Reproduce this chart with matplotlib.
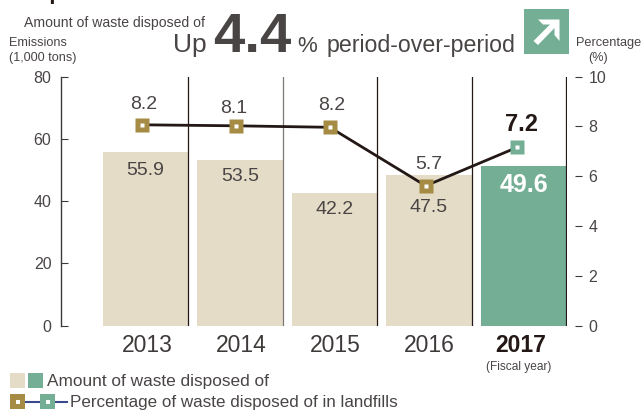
import matplotlib
matplotlib.use("Agg")
import matplotlib.pyplot as plt
from matplotlib.patches import Rectangle, Polygon
from matplotlib.lines import Line2D
import numpy as np

W, H = 641, 412
years = ["2013", "2014", "2015", "2016", "2017"]
bar_heights = [55.6, 53.3, 42.7, 48.2, 51.1]
bar_labels = ["55.9", "53.5", "42.2", "47.5", "49.6"]
pct_heights = [8.06, 8.02, 7.96, 5.61, 7.15]
pct_labels = ["8.2", "8.1", "8.2", "5.7", "7.2"]
left_ticks = [0, 20, 40, 60, 80]
right_ticks = [0, 2, 4, 6, 8, 10]

BEIGE = "#E5DCC8"
GREEN = "#74AF95"
GOLD = "#A58B44"
DARK = "#231815"
TXT = "#4A4545"
NAVY = "#3C4A8C"

plt.rcParams["font.family"] = ["Liberation Sans", "DejaVu Sans"]
fig = plt.figure(figsize=(W / 100, H / 100), dpi=100)
fig.patch.set_facecolor("white")

AX_L, AX_R, AX_T, AX_B = 60.5, 566.5, 76.5, 325.5
ax = fig.add_axes([AX_L / W, 1 - AX_B / H, (AX_R - AX_L) / W, (AX_B - AX_T) / H])
STEP = 94.5
xc0 = 145.5
ax.set_xlim((AX_L - xc0) / STEP, (AX_R - xc0) / STEP)
ax.set_ylim(0, 80)
x = np.arange(len(years))
cols = [BEIGE] * 4 + [GREEN]
ax.bar(x, bar_heights, width=0.905, color=cols, linewidth=0, zorder=1)
for s in ["top", "right", "bottom"]:
    ax.spines[s].set_visible(False)
ax.spines["left"].set_color("#3E3A39")
ax.spines["left"].set_linewidth(1.0)
ax.set_xticks([])
ax.set_yticks(left_ticks)
ax.tick_params(axis="y", direction="in", length=5, width=0.8, color="#3E3A39",
               labelsize=11.5, labelcolor=TXT, pad=6.5)
for i, xx in enumerate(x):
    ax.axvline(xx + 0.453, color="#7d7876" if i == 1 else DARK, lw=0.9, zorder=2)

ax2 = ax.twinx()
ax2.set_ylim(0, 10)
ax2.set_yticks(right_ticks)
for s in ["top", "left", "bottom"]:
    ax2.spines[s].set_visible(False)
ax2.spines["right"].set_position(("outward", 6))
ax2.spines["right"].set_visible(False)
ax2.tick_params(axis="y", direction="out", length=5, width=0.8, color="#3E3A39",
                labelsize=11.5, labelcolor=TXT, pad=5)
ax2.set_xlim(ax.get_xlim())

line_x = x - np.array([0.035, 0.045, 0.05, 0.035, 0.07])
ax2.plot(line_x, pct_heights, color=DARK, lw=2.0, zorder=3, solid_joinstyle="miter")
mcols = [GOLD] * 4 + [GREEN]
for lx, ly, c in zip(line_x, pct_heights, mcols):
    ax2.plot([lx], [ly], marker="s", ms=10.2, mfc=c, mec="none", zorder=4)
    ax2.plot([lx], [ly], marker="s", ms=3.0, mfc="white", mec="none", zorder=5)

px = 72 / 100
bar_off = [(-0.5, -18), (0, -17), (0, -17), (-0.5, -32), (0, -19)]
for i, (lab, off) in enumerate(zip(bar_labels, bar_off)):
    last = i == 4
    ax.annotate(lab, (x[i], bar_heights[i]), xytext=(off[0] * px, off[1] * px),
                textcoords="offset points", ha="center", va="center",
                fontsize=18 if last else 14,
                fontweight="bold" if last else "normal",
                color="white" if last else TXT, zorder=6)
pct_off = [(1.5, -20), (-2, -17), (1.5, -22), (3, -21), (5, -23)]
for i, (lab, off) in enumerate(zip(pct_labels, pct_off)):
    last = i == 4
    ax2.annotate(lab, (line_x[i], pct_heights[i]), xytext=(off[0] * px, -off[1] * px),
                 textcoords="offset points", ha="center", va="center",
                 fontsize=17 if last else 14,
                 fontweight="bold" if last else "normal",
                 color=DARK if last else TXT, zorder=6)


def T(xp, yp, s, **kw):
    kw.setdefault("color", TXT)
    kw.setdefault("va", "baseline")
    fig.text(xp / W, 1 - yp / H, s, **kw)


for i, y in enumerate(years):
    last = i == 4
    T(147.5 + 94 * i - (3 if last else 0), 352.5, y, ha="center", fontsize=16.5,
      fontweight="bold" if last else "normal", color=DARK if last else "#3E3A39")
T(519, 370, "(Fiscal year)", ha="center", fontsize=8.6)

T(15, -1, "Disposal of in landfills", fontsize=16, fontweight="bold", color=DARK)
T(24, 27, "Amount of waste disposed of", fontsize=10.1)
T(173, 52, "Up", fontsize=19)
T(213, 52, "4.4", fontsize=40.5, fontweight="bold", color="#4A4545")
T(297, 52, "%", fontsize=16)
T(327, 52, "period-over-period", fontsize=16.7)
T(9, 46, "Emissions", fontsize=9.1)
T(9, 61, "(1,000 tons)", fontsize=9.1)
T(576, 46, "Percentage", fontsize=9.2)
T(598, 61, "(%)", ha="center", fontsize=9.1)


def figpt(xp, yp):
    return xp / W, 1 - yp / H


def rect(xp, yp, w, h, c, z=10):
    fig.add_artist(Rectangle(figpt(xp, yp + h), w / W, h / H, transform=fig.transFigure,
                             fc=c, ec="none", zorder=z))


# trend badge
rect(524, 9, 45, 45, GREEN)
arrow_pts = [(538, 19.5), (559.5, 19.5), (559.5, 41), (554.5, 35), (554.5, 28), (538, 45),
             (533.5, 41), (550, 24.5), (543, 24.5)]
fig.add_artist(Polygon([figpt(a, b) for a, b in arrow_pts], closed=True,
                       transform=fig.transFigure, fc="white", ec="none", zorder=11))

# legend
rect(10, 373, 15, 15, BEIGE)
rect(28, 373, 15, 15, GREEN)
T(47, 386, "Amount of waste disposed of", fontsize=12.45)
fig.add_artist(Line2D([25 / W, 67 / W], [1 - 401.5 / H] * 2, color=NAVY, lw=1.5, zorder=10))
rect(10, 394, 15, 15, GOLD, 11)
rect(15.5, 399.5, 4, 4, "white", 12)
rect(40, 394, 15, 15, GREEN, 11)
rect(45.5, 399.5, 4, 4, "white", 12)
T(70, 407, "Percentage of waste disposed of in landfills", fontsize=12.25)

fig.savefig("out.png", dpi=100)
